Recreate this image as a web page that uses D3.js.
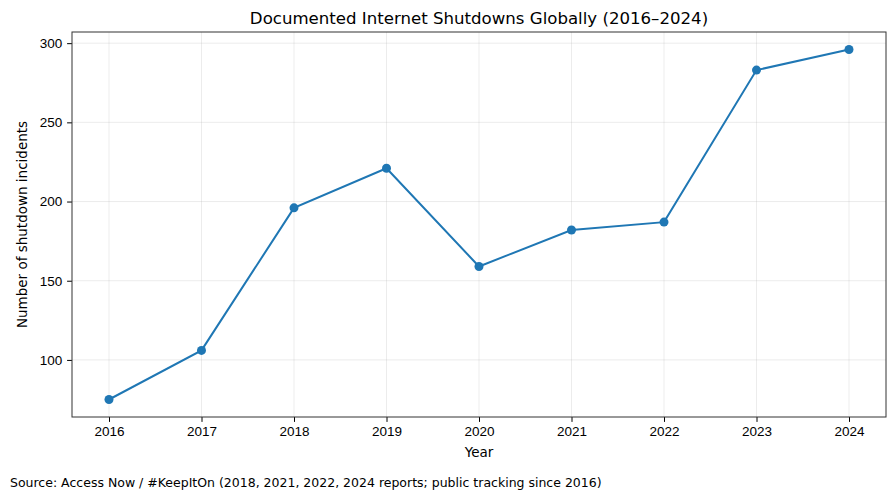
<!DOCTYPE html>
<html>
<head>
<meta charset="utf-8">
<script src="https://cdn.jsdelivr.net/npm/d3@7"></script>
<style>
  body { margin: 0; background: #fff; }
  svg { font-family: "DejaVu Sans", sans-serif; }
  .tick text { font-size: 13.5px; fill: #000; }
  .tick line { stroke: #000; }
  .domain { stroke: none; }
</style>
</head>
<body>
<svg id="chart"></svg>
<script>
var years = [2016, 2017, 2018, 2019, 2020, 2021, 2022, 2023, 2024];
var incidents = [75, 106, 196, 221, 159, 182, 187, 283, 296];
var yTicks = [100, 150, 200, 250, 300];

var margin = { top: 32, right: 10, bottom: 83, left: 72 },
    width = 896 - margin.left - margin.right,
    height = 500 - margin.top - margin.bottom;

var svg = d3.select("#chart")
    .attr("width", 896)
    .attr("height", 500);

var g = svg.append("g")
    .attr("transform", "translate(" + margin.left + "," + margin.top + ")");

var xScale = d3.scaleLinear().domain([2015.6, 2024.4]).range([0, width]);
var yMin = d3.min(incidents), yMax = d3.max(incidents), pad = (yMax - yMin) * 0.05;
var yScale = d3.scaleLinear().domain([yMin - pad, yMax + pad]).range([height, 0]);

// grid
g.append("g").selectAll("line.gx")
    .data(years)
    .enter().append("line")
    .attr("x1", function (d) { return xScale(d); })
    .attr("x2", function (d) { return xScale(d); })
    .attr("y1", 0).attr("y2", height)
    .attr("stroke", "#b0b0b0").attr("stroke-opacity", 0.3).attr("stroke-width", 0.8);

g.append("g").selectAll("line.gy")
    .data(yTicks)
    .enter().append("line")
    .attr("x1", 0).attr("x2", width)
    .attr("y1", function (d) { return yScale(d); })
    .attr("y2", function (d) { return yScale(d); })
    .attr("stroke", "#b0b0b0").attr("stroke-opacity", 0.3).attr("stroke-width", 0.8);

// axes
g.append("g")
    .attr("transform", "translate(0," + height + ")")
    .call(d3.axisBottom(xScale).tickValues(years).tickFormat(d3.format("d")).tickSize(4.9).tickPadding(4.9));

g.append("g")
    .call(d3.axisLeft(yScale).tickValues(yTicks).tickSize(4.9).tickPadding(4.9));

// frame
g.append("rect")
    .attr("width", width).attr("height", height)
    .attr("fill", "none").attr("stroke", "#333").attr("stroke-width", 1);

// line + markers
var line = d3.line()
    .x(function (d, i) { return xScale(years[i]); })
    .y(function (d) { return yScale(d); });

g.append("path")
    .datum(incidents)
    .attr("fill", "none")
    .attr("stroke", "#1f77b4")
    .attr("stroke-width", 2)
    .attr("d", line);

g.selectAll("circle")
    .data(incidents)
    .enter().append("circle")
    .attr("cx", function (d, i) { return xScale(years[i]); })
    .attr("cy", function (d) { return yScale(d); })
    .attr("r", 4.5)
    .attr("fill", "#1f77b4");

// labels
svg.append("text")
    .attr("x", margin.left + width / 2)
    .attr("y", 24)
    .attr("text-anchor", "middle")
    .style("font-size", "16.6px")
    .text("Documented Internet Shutdowns Globally (2016–2024)");

svg.append("text")
    .attr("x", margin.left + width / 2)
    .attr("y", 457)
    .attr("text-anchor", "middle")
    .style("font-size", "13.5px")
    .text("Year");

svg.append("text")
    .attr("transform", "rotate(-90)")
    .attr("x", -(margin.top + height / 2))
    .attr("y", 27)
    .attr("text-anchor", "middle")
    .style("font-size", "13.5px")
    .text("Number of shutdown incidents");

svg.append("text")
    .attr("x", 10)
    .attr("y", 487)
    .style("font-size", "12.5px")
    .text("Source: Access Now / #KeepItOn (2018, 2021, 2022, 2024 reports; public tracking since 2016)");
</script>
</body>
</html>
